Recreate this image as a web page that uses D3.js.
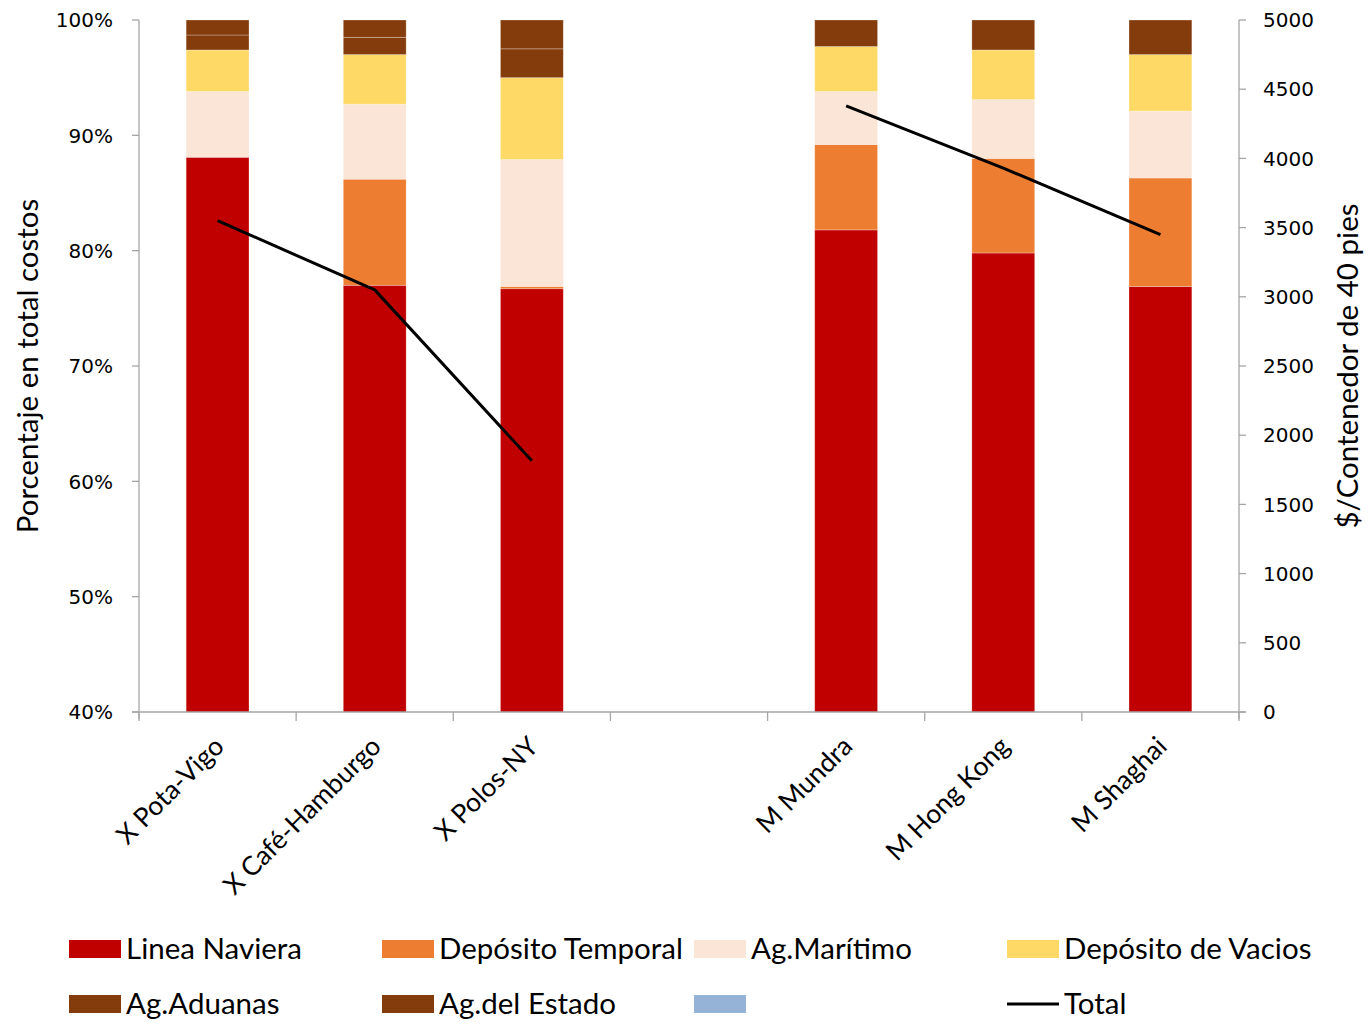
<!DOCTYPE html>
<html>
<head>
<meta charset="utf-8">
<script src="https://cdn.jsdelivr.net/npm/d3@7"></script>
<style>
  html, body { margin: 0; padding: 0; background: #fff; }
  svg { display: block; }
  .tick-lbl { font-family: "DejaVu Sans", Verdana, sans-serif; font-size: 20px; fill: #000; }
  .cat-lbl, .title, .legend-lbl { font-family: Lato, "Open Sans", sans-serif; fill: #000; }
</style>
</head>
<body>
<svg id="chart" width="1370" height="1024"></svg>
<script>
// Routes (the empty slot separates exports from imports)
const categories = ["X Pota-Vigo", "X Café-Hamburgo", "X Polos-NY", "", "M Mundra", "M Hong Kong", "M Shaghai"];

// Share of each cost component in the total (%)
const lineaNaviera      = [88.1, 77.0, 76.7, 0, 81.8, 79.8, 76.9];
const depositoTemporal  = [0.0, 9.2, 0.2, 0, 7.4, 8.2, 9.4];
const agMaritimo        = [5.7, 6.5, 11.0, 0, 4.6, 5.1, 5.8];
const depositoVacios    = [3.6, 4.3, 7.1, 0, 3.9, 4.3, 4.9];
const agAduanas         = [1.3, 1.5, 2.5, 0, 2.3, 2.6, 3.0];
const agEstado          = [1.3, 1.5, 2.5, 0, 0, 0, 0];
const sinNombre         = [0, 0, 0, 0, 0, 0, 0];

// Total cost per 40' container ($)
const totalCost = [3550, 3050, 1815, null, 4380, 3930, 3450];

const seriesNames  = ["Linea Naviera", "Depósito Temporal", "Ag.Marítimo", "Depósito de Vacios", "Ag.Aduanas", "Ag.del Estado", ""];
const seriesValues = [lineaNaviera, depositoTemporal, agMaritimo, depositoVacios, agAduanas, agEstado, sinNombre];
const seriesColors = ["#C00000", "#ED7D31", "#FBE5D6", "#FFD966", "#843C0C", "#843C0C", "#95B3D7"];

const leftTicks  = [40, 50, 60, 70, 80, 90, 100];
const rightTicks = [0, 500, 1000, 1500, 2000, 2500, 3000, 3500, 4000, 4500, 5000];

const svg = d3.select("#chart");
const plot = { left: 139, right: 1239, top: 20, bottom: 712 };

const x = d3.scaleBand()
  .domain(d3.range(categories.length))
  .range([plot.left, plot.right])
  .paddingInner(0.6)
  .paddingOuter(0.3);
const step = x.step();

const yPct = d3.scaleLinear().domain([40, 100]).range([plot.bottom, plot.top]);
const yUsd = d3.scaleLinear().domain([0, 5000]).range([plot.bottom, plot.top]);

// Stack rows
const rows = categories.map((c, i) => {
  const r = { i };
  seriesNames.forEach((n, k) => { r["s" + k] = seriesValues[k][i]; });
  return r;
});
const stack = d3.stack().keys(seriesNames.map((n, k) => "s" + k));
const stacked = stack(rows);

svg.append("defs").append("clipPath").attr("id", "plot-clip")
  .append("rect")
  .attr("x", plot.left).attr("y", plot.top)
  .attr("width", plot.right - plot.left).attr("height", plot.bottom - plot.top);

const bars = svg.append("g").attr("clip-path", "url(#plot-clip)");
stacked.forEach((layer, k) => {
  bars.append("g")
    .attr("fill", seriesColors[k])
    .selectAll("rect")
    .data(layer.filter(d => d[1] - d[0] > 0))
    .join("rect")
    .attr("x", d => x(d.data.i))
    .attr("width", x.bandwidth())
    .attr("y", d => yPct(d[1]))
    .attr("height", d => yPct(d[0]) - yPct(d[1]))
    .attr("stroke", "rgba(255,255,255,0.35)")
    .attr("stroke-width", 0.8);
});

// Axes
const axisColor = "#a6a6a6";
const axes = svg.append("g").attr("stroke", axisColor).attr("stroke-width", 1.3).attr("fill", "none");

// left
axes.append("line").attr("x1", plot.left).attr("x2", plot.left).attr("y1", plot.top).attr("y2", plot.bottom + 7);
leftTicks.forEach(t => {
  axes.append("line").attr("x1", plot.left - 7).attr("x2", plot.left).attr("y1", yPct(t)).attr("y2", yPct(t));
});
// right
axes.append("line").attr("x1", plot.right).attr("x2", plot.right).attr("y1", plot.top).attr("y2", plot.bottom + 7);
rightTicks.forEach(t => {
  axes.append("line").attr("x1", plot.right).attr("x2", plot.right + 7).attr("y1", yUsd(t)).attr("y2", yUsd(t));
});
// bottom
axes.append("line").attr("x1", plot.left - 7).attr("x2", plot.right + 7).attr("y1", plot.bottom).attr("y2", plot.bottom);
d3.range(categories.length + 1).forEach(i => {
  const bx = plot.left + i * step;
  axes.append("line").attr("x1", bx).attr("x2", bx).attr("y1", plot.bottom).attr("y2", plot.bottom + 9);
});

// Tick labels
svg.append("g").selectAll("text").data(leftTicks).join("text")
  .attr("class", "tick-lbl")
  .attr("x", plot.left - 26)
  .attr("y", d => yPct(d))
  .attr("dy", "0.36em")
  .attr("text-anchor", "end")
  .text(d => d + "%");

svg.append("g").selectAll("text").data(rightTicks).join("text")
  .attr("class", "tick-lbl")
  .attr("x", plot.right + 24)
  .attr("y", d => yUsd(d))
  .attr("dy", "0.36em")
  .attr("text-anchor", "start")
  .text(d => d);

// Category labels (rotated)
svg.append("g").selectAll("text").data(categories.map((c, i) => ({ c, i })).filter(d => d.c))
  .join("text")
  .attr("class", "cat-lbl")
  .attr("font-size", 26.5)
  .attr("text-anchor", "end")
  .attr("transform", d => `translate(${x(d.i) + x.bandwidth() / 2 + 8},${plot.bottom + 36}) rotate(-45)`)
  .text(d => d.c);

// Axis titles
svg.append("text").attr("class", "title")
  .attr("font-size", 29.5)
  .attr("text-anchor", "middle")
  .attr("transform", `translate(38,${(plot.top + plot.bottom) / 2}) rotate(-90)`)
  .text("Porcentaje en total costos");

svg.append("text").attr("class", "title")
  .attr("font-size", 29.5)
  .attr("text-anchor", "middle")
  .attr("transform", `translate(1358,${(plot.top + plot.bottom) / 2}) rotate(-90)`)
  .text("$/Contenedor de 40 pies");

// Total line on the secondary axis
const line = d3.line()
  .defined(d => d.v !== null)
  .x(d => x(d.i) + x.bandwidth() / 2)
  .y(d => yUsd(d.v));
svg.append("path")
  .datum(totalCost.map((v, i) => ({ v, i })))
  .attr("fill", "none")
  .attr("stroke", "#000")
  .attr("stroke-width", 3)
  .attr("stroke-linejoin", "round")
  .attr("d", line);

// Legend
const legendItems = seriesNames.map((n, k) => ({ name: n, color: seriesColors[k], type: "box" }))
  .concat([{ name: "Total", color: "#000", type: "line" }]);
const colX = [69, 382, 694, 1007];
const rowY = [949, 1004];
const legend = svg.append("g");
legendItems.forEach((d, i) => {
  const gx = colX[i % 4], gy = rowY[Math.floor(i / 4)];
  const g = legend.append("g").attr("transform", `translate(${gx},${gy})`);
  if (d.type === "box") {
    g.append("rect").attr("x", 0).attr("y", -9).attr("width", 52).attr("height", 18).attr("fill", d.color);
  } else {
    g.append("line").attr("x1", 0).attr("x2", 52).attr("y1", 0).attr("y2", 0)
      .attr("stroke", d.color).attr("stroke-width", 3);
  }
  if (d.name) {
    g.append("text").attr("class", "legend-lbl")
      .attr("font-size", 29.5)
      .attr("x", 57).attr("y", 0).attr("dy", "0.35em")
      .text(d.name);
  }
});
</script>
</body>
</html>
